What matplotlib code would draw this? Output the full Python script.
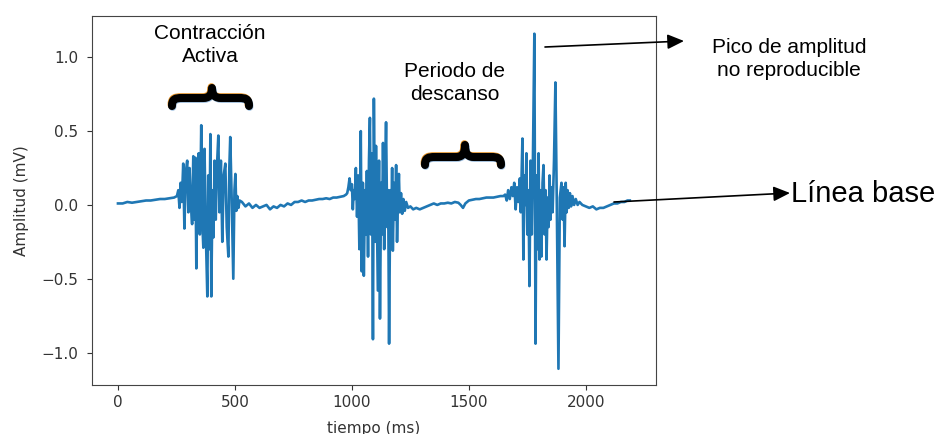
import matplotlib
matplotlib.use("Agg")
import matplotlib.pyplot as plt
from matplotlib.path import Path
from matplotlib.patches import PathPatch, FancyArrowPatch

# ---- data ----
tiempo_ms = [
    0, 20, 40, 60, 80, 100, 120, 140, 160, 180, 200, 220, 240,
    252, 258, 263, 268, 273, 279, 284, 290, 296, 301, 306, 311, 317, 322, 327, 331,
    335, 340, 345, 350, 356, 360, 365, 370, 375, 382, 386, 391, 395, 399, 404, 408,
    413, 418, 423, 429, 434, 440, 446, 452, 459, 465, 472, 476, 480, 486, 493, 498,
    502, 506, 510, 515, 520,
    530, 545, 560, 575, 590, 605, 620, 635, 650, 665, 680, 695, 710, 725, 740, 755,
    770, 785, 800, 815, 830, 845, 860, 875, 890, 905, 920, 935, 950, 965, 975,
    980, 985, 990, 995, 1000, 1004, 1008, 1012,
    1017, 1022, 1027, 1032, 1038, 1042, 1047, 1051, 1056, 1060, 1064, 1069, 1073,
    1077, 1081, 1086, 1090, 1094, 1099, 1103, 1107, 1111, 1116, 1120, 1125, 1129,
    1133, 1138, 1142, 1146, 1151, 1155, 1159, 1164, 1168, 1172, 1175, 1180, 1185,
    1189, 1193, 1197, 1201, 1205, 1210, 1215, 1220, 1226, 1232, 1240,
    1250, 1262, 1275, 1290, 1305, 1320, 1335, 1350, 1365, 1380, 1395, 1410, 1425,
    1440, 1455, 1465, 1475, 1485, 1500, 1515, 1530, 1545, 1560, 1575, 1590, 1605,
    1620, 1635, 1648,
    1655, 1662, 1668, 1675, 1682, 1688, 1694, 1700, 1706, 1712, 1718, 1722, 1729,
    1733, 1738, 1742, 1746, 1750, 1755, 1759, 1764, 1769, 1774, 1780, 1785, 1789,
    1794, 1798, 1802, 1806, 1810, 1815, 1819, 1824, 1828, 1832, 1837, 1841, 1845,
    1849, 1853, 1858, 1864, 1870, 1876, 1883, 1889, 1896, 1901, 1905, 1909, 1914,
    1918, 1922, 1927, 1932, 1937, 1943, 1950, 1957, 1965, 1973,
    1985, 2000, 2015, 2030, 2045, 2060, 2075, 2090, 2105, 2120, 2135, 2150, 2165,
    2178, 2188,
]
amplitud_mv = [
    0.01, 0.01, 0.02, 0.015, 0.02, 0.025, 0.03, 0.03, 0.035, 0.04, 0.04, 0.045, 0.05,
    0.06, 0.10, -0.02, 0.15, 0.02, 0.28, -0.16, 0.22, 0.30, -0.05, 0.25, 0.02, -0.13, 0.33, -0.10, 0.32,
    -0.43, 0.20, 0.35, -0.20, 0.54, -0.10, -0.29, 0.38, -0.15, -0.62, 0.20, -0.30, 0.48, -0.62, 0.10, -0.22,
    0.30, -0.10, 0.25, 0.47, -0.05, 0.30, -0.25, 0.20, 0.28, -0.15, -0.35, 0.25, 0.46, 0.05, -0.50, 0.10,
    0.21, -0.04, 0.06, -0.02, 0.03,
    0.02, -0.01, 0.01, -0.02, 0.0, -0.02, -0.01, 0.0, -0.03, -0.01, -0.02, 0.0, -0.01, 0.01, 0.0, 0.02,
    0.02, 0.03, 0.02, 0.03, 0.03, 0.035, 0.04, 0.04, 0.045, 0.04, 0.05, 0.05, 0.055, 0.06, 0.07,
    0.08, 0.12, 0.18, 0.10, 0.14, -0.03, 0.10, 0.04,
    0.25, -0.08, 0.20, -0.30, 0.50, -0.45, 0.15, -0.48, 0.10, -0.20, 0.23, -0.35, 0.30,
    0.59, -0.20, 0.35, -0.91, 0.72, -0.25, 0.40, -0.10, -0.58, 0.30, -0.77, 0.15, -0.20,
    0.42, -0.30, 0.20, 0.56, -0.15, 0.10, -0.94, 0.10, -0.20, 0.25, -0.31, 0.15, -0.10,
    0.27, -0.25, 0.05, 0.21, -0.05, 0.08, -0.06, 0.04, -0.04, 0.02, -0.02,
    -0.01, -0.03, -0.02, -0.03, -0.02, -0.01, 0.0, 0.01, 0.0, 0.01, 0.01, 0.015, 0.01,
    0.02, 0.015, 0.0, -0.02, 0.01, 0.03, 0.035, 0.04, 0.04, 0.045, 0.05, 0.05, 0.05,
    0.055, 0.06, 0.06,
    0.07, 0.03, 0.10, 0.04, 0.12, 0.06, 0.15, -0.03, 0.12, 0.02, 0.18, -0.05, 0.45,
    -0.37, 0.20, 0.00, 0.35, -0.20, 0.10, -0.55, 0.30, -0.20, 0.32, 1.16, -0.94, 0.20,
    -0.30, 0.35, -0.37, 0.10, -0.35, 0.15, 0.27, -0.20, 0.10, -0.37, 0.05, -0.15, 0.20,
    -0.10, 0.12, -0.05, 0.30, 0.83, 0.0, -1.11, 0.05, 0.15, -0.10, 0.12, -0.28, 0.15,
    -0.05, 0.10, -0.02, 0.08, -0.01, 0.06, 0.0, 0.04, 0.0, 0.02,
    0.0, -0.01, -0.02, -0.01, -0.03, -0.02, -0.02, -0.01, 0.0, 0.01, 0.01, 0.02, 0.02,
    0.03, 0.03,
]
x_ticks = [0, 500, 1000, 1500, 2000]
y_ticks = [-1.0, -0.5, 0.0, 0.5, 1.0]
y_tick_labels = ["\u22121.0", "\u22120.5", "0.0", "0.5", "1.0"]

W, H = 937, 434
fig = plt.figure(figsize=(W / 100, H / 100), dpi=100)
ax = fig.add_axes([92 / W, 1 - 385 / H, (656 - 92) / W, (385 - 16) / H])
ax.plot(tiempo_ms, amplitud_mv, color="#1f77b4", lw=1.9)
ax.set_xlim(-111, 2300)
ax.set_ylim(-1.22, 1.28)
ax.set_xticks(x_ticks)
ax.set_yticks(y_ticks)
ax.set_yticklabels(y_tick_labels)
ax.tick_params(labelsize=11, colors="#333333")
ax.tick_params(axis="y", pad=6.5)
for s in ax.spines.values():
    s.set_color("#444444")
ax.set_xlabel("tiempo (ms)", fontsize=11, color="#333333", labelpad=8)
ax.set_ylabel("Amplitud (mV)", fontsize=11, color="#333333", labelpad=9)

def fx(px):
    return px / W

def fy(py):
    return 1 - py / H

afont = dict(family="Liberation Sans", color="black", ha="center", va="center")
fig.text(fx(210), fy(45), "Contracción\nActiva", fontsize=15, linespacing=1.25, **afont)
fig.text(fx(455), fy(83), "Periodo de\ndescanso", fontsize=15, linespacing=1.25, **afont)
fig.text(fx(789), fy(59), "Pico de amplitud\nno reproducible", fontsize=15, linespacing=1.25, **afont)
fig.text(fx(791), fy(194), "Línea base", fontsize=21, family="Liberation Sans",
         color="black", ha="left", va="center")

def brace(x0, x1, xm, ytip, ybar, yend, dx=0.0, dy=0.0):
    pts = [(x0, yend), (x0, ybar + 1), (x0 + 3, ybar), (x0 + 10, ybar),
           (xm - 9, ybar), (xm - 3, ybar), (xm, ybar - 3), (xm, ytip),
           (xm, ybar - 3), (xm + 3, ybar), (xm + 9, ybar),
           (x1 - 10, ybar), (x1 - 3, ybar), (x1, ybar + 1), (x1, yend)]
    codes = [Path.MOVETO, Path.CURVE4, Path.CURVE4, Path.CURVE4,
             Path.LINETO, Path.CURVE4, Path.CURVE4, Path.CURVE4,
             Path.CURVE4, Path.CURVE4, Path.CURVE4,
             Path.LINETO, Path.CURVE4, Path.CURVE4, Path.CURVE4]
    verts = [(fx(x + dx), fy(y + dy)) for x, y in pts]
    return Path(verts, codes)

for (x0, x1, xm, yt, yb, ye) in [(172, 249, 212, 88, 98, 106), (425, 501, 465, 145, 157, 165)]:
    fig.add_artist(PathPatch(brace(x0, x1, xm, yt, yb, ye, -0.6, -1.0), fill=False,
                             edgecolor="#e8962a", lw=5.5, capstyle="round",
                             joinstyle="round", transform=fig.transFigure))
    fig.add_artist(PathPatch(brace(x0, x1, xm, yt, yb, ye, 0.6, 1.0), fill=False,
                             edgecolor="#9dbfe0", lw=5.5, capstyle="round",
                             joinstyle="round", transform=fig.transFigure))
    fig.add_artist(PathPatch(brace(x0, x1, xm, yt, yb, ye), fill=False,
                             edgecolor="black", lw=5.8, capstyle="round",
                             joinstyle="round", transform=fig.transFigure))

for (xa, ya, xb, yb) in [(545, 47, 684, 41), (614, 202, 790, 193)]:
    fig.add_artist(FancyArrowPatch((fx(xa), fy(ya)), (fx(xb), fy(yb)),
                                   transform=fig.transFigure,
                                   arrowstyle="-|>,head_length=10,head_width=4.5",
                                   mutation_scale=1, lw=1.2, color="black",
                                   shrinkA=0, shrinkB=0))

fig.savefig("out.png", dpi=100)
